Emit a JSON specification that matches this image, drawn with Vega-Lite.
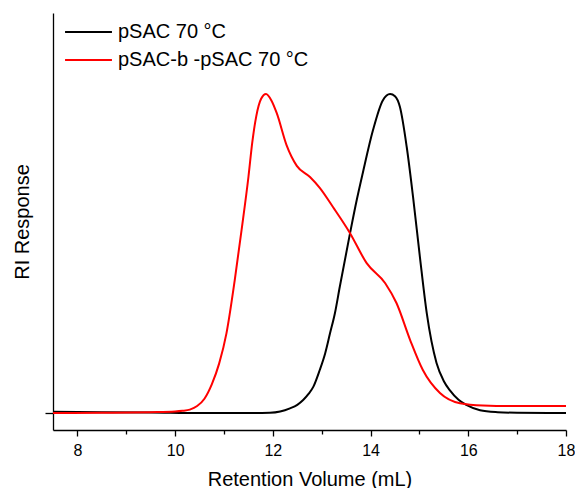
{
  "$schema": "https://vega.github.io/schema/vega-lite/v6.json",
  "width": 513,
  "height": 417,
  "autosize": {"type": "none"},
  "padding": {"left": 53, "top": 13, "right": 9, "bottom": 58},
  "background": "white",
  "config": {
    "view": {"stroke": null},
    "font": "Liberation Sans",
    "axis": {"domainColor": "#000", "domainWidth": 1.3, "tickColor": "#000", "tickWidth": 1.3, "labelColor": "#000", "titleColor": "#000", "titleFontWeight": "normal", "grid": false}
  },
  "data": {
    "values": [
      {"v": 7.5, "r": 0.004, "s": "pSAC 70 °C"},
      {"v": 8.5, "r": 0.003, "s": "pSAC 70 °C"},
      {"v": 9.5, "r": 0.002, "s": "pSAC 70 °C"},
      {"v": 10.5, "r": 0.0, "s": "pSAC 70 °C"},
      {"v": 11.5, "r": 0.0, "s": "pSAC 70 °C"},
      {"v": 11.94, "r": 0.001, "s": "pSAC 70 °C"},
      {"v": 12.15, "r": 0.005, "s": "pSAC 70 °C"},
      {"v": 12.35, "r": 0.015, "s": "pSAC 70 °C"},
      {"v": 12.5, "r": 0.026, "s": "pSAC 70 °C"},
      {"v": 12.62, "r": 0.041, "s": "pSAC 70 °C"},
      {"v": 12.73, "r": 0.06, "s": "pSAC 70 °C"},
      {"v": 12.83, "r": 0.083, "s": "pSAC 70 °C"},
      {"v": 12.96, "r": 0.135, "s": "pSAC 70 °C"},
      {"v": 13.07, "r": 0.187, "s": "pSAC 70 °C"},
      {"v": 13.17, "r": 0.25, "s": "pSAC 70 °C"},
      {"v": 13.27, "r": 0.313, "s": "pSAC 70 °C"},
      {"v": 13.37, "r": 0.396, "s": "pSAC 70 °C"},
      {"v": 13.58, "r": 0.564, "s": "pSAC 70 °C"},
      {"v": 13.72, "r": 0.67, "s": "pSAC 70 °C"},
      {"v": 13.84, "r": 0.752, "s": "pSAC 70 °C"},
      {"v": 14.05, "r": 0.887, "s": "pSAC 70 °C"},
      {"v": 14.25, "r": 0.98, "s": "pSAC 70 °C"},
      {"v": 14.4, "r": 1.0, "s": "pSAC 70 °C"},
      {"v": 14.5, "r": 0.993, "s": "pSAC 70 °C"},
      {"v": 14.6, "r": 0.96, "s": "pSAC 70 °C"},
      {"v": 14.74, "r": 0.834, "s": "pSAC 70 °C"},
      {"v": 14.87, "r": 0.677, "s": "pSAC 70 °C"},
      {"v": 15.01, "r": 0.489, "s": "pSAC 70 °C"},
      {"v": 15.15, "r": 0.313, "s": "pSAC 70 °C"},
      {"v": 15.35, "r": 0.157, "s": "pSAC 70 °C"},
      {"v": 15.5, "r": 0.1, "s": "pSAC 70 °C"},
      {"v": 15.62, "r": 0.072, "s": "pSAC 70 °C"},
      {"v": 15.8, "r": 0.042, "s": "pSAC 70 °C"},
      {"v": 15.97, "r": 0.025, "s": "pSAC 70 °C"},
      {"v": 16.24, "r": 0.009, "s": "pSAC 70 °C"},
      {"v": 16.6, "r": 0.003, "s": "pSAC 70 °C"},
      {"v": 17.0, "r": 0.001, "s": "pSAC 70 °C"},
      {"v": 18.0, "r": 0.0, "s": "pSAC 70 °C"},
      {"v": 7.5, "r": 0.0, "s": "pSAC-b -pSAC 70 °C"},
      {"v": 8.5, "r": 0.001, "s": "pSAC-b -pSAC 70 °C"},
      {"v": 9.5, "r": 0.003, "s": "pSAC-b -pSAC 70 °C"},
      {"v": 10.0, "r": 0.005, "s": "pSAC-b -pSAC 70 °C"},
      {"v": 10.15, "r": 0.007, "s": "pSAC-b -pSAC 70 °C"},
      {"v": 10.3, "r": 0.011, "s": "pSAC-b -pSAC 70 °C"},
      {"v": 10.45, "r": 0.022, "s": "pSAC-b -pSAC 70 °C"},
      {"v": 10.6, "r": 0.045, "s": "pSAC-b -pSAC 70 °C"},
      {"v": 10.75, "r": 0.09, "s": "pSAC-b -pSAC 70 °C"},
      {"v": 10.9, "r": 0.155, "s": "pSAC-b -pSAC 70 °C"},
      {"v": 11.05, "r": 0.25, "s": "pSAC-b -pSAC 70 °C"},
      {"v": 11.22, "r": 0.417, "s": "pSAC-b -pSAC 70 °C"},
      {"v": 11.36, "r": 0.574, "s": "pSAC-b -pSAC 70 °C"},
      {"v": 11.5, "r": 0.74, "s": "pSAC-b -pSAC 70 °C"},
      {"v": 11.58, "r": 0.85, "s": "pSAC-b -pSAC 70 °C"},
      {"v": 11.66, "r": 0.93, "s": "pSAC-b -pSAC 70 °C"},
      {"v": 11.76, "r": 0.985, "s": "pSAC-b -pSAC 70 °C"},
      {"v": 11.86, "r": 1.0, "s": "pSAC-b -pSAC 70 °C"},
      {"v": 11.97, "r": 0.98, "s": "pSAC-b -pSAC 70 °C"},
      {"v": 12.08, "r": 0.94, "s": "pSAC-b -pSAC 70 °C"},
      {"v": 12.28, "r": 0.84, "s": "pSAC-b -pSAC 70 °C"},
      {"v": 12.49, "r": 0.775, "s": "pSAC-b -pSAC 70 °C"},
      {"v": 12.76, "r": 0.74, "s": "pSAC-b -pSAC 70 °C"},
      {"v": 12.96, "r": 0.706, "s": "pSAC-b -pSAC 70 °C"},
      {"v": 13.23, "r": 0.646, "s": "pSAC-b -pSAC 70 °C"},
      {"v": 13.58, "r": 0.564, "s": "pSAC-b -pSAC 70 °C"},
      {"v": 13.92, "r": 0.47, "s": "pSAC-b -pSAC 70 °C"},
      {"v": 14.3, "r": 0.407, "s": "pSAC-b -pSAC 70 °C"},
      {"v": 14.53, "r": 0.345, "s": "pSAC-b -pSAC 70 °C"},
      {"v": 14.81, "r": 0.229, "s": "pSAC-b -pSAC 70 °C"},
      {"v": 15.07, "r": 0.135, "s": "pSAC-b -pSAC 70 °C"},
      {"v": 15.42, "r": 0.063, "s": "pSAC-b -pSAC 70 °C"},
      {"v": 15.83, "r": 0.031, "s": "pSAC-b -pSAC 70 °C"},
      {"v": 16.3, "r": 0.024, "s": "pSAC-b -pSAC 70 °C"},
      {"v": 17.0, "r": 0.022, "s": "pSAC-b -pSAC 70 °C"},
      {"v": 18.0, "r": 0.022, "s": "pSAC-b -pSAC 70 °C"}
    ]
  },
  "mark": {"type": "line", "interpolate": "monotone", "strokeWidth": 2, "clip": true},
  "encoding": {
    "x": {
      "field": "v", "type": "quantitative",
      "scale": {"domain": [7.5, 18], "nice": false, "zero": false},
      "axis": {
        "title": "Retention Volume (mL)",
        "values": [8, 9, 10, 11, 12, 13, 14, 15, 16, 17, 18],
        "labelExpr": "datum.value % 2 === 0 ? datum.label : ''",
        "tickSize": {"condition": {"test": "datum.value % 2 !== 0", "value": 4}, "value": 6},
        "labelFontSize": 16, "labelPadding": 6, "labelFlush": false,
        "titleFontSize": 20, "titlePadding": 11
      }
    },
    "y": {
      "field": "r", "type": "quantitative",
      "scale": {"domain": [-0.053, 1.254], "nice": false, "zero": false},
      "axis": {
        "title": "RI Response",
        "values": [0],
        "labels": false,
        "tickSize": 8,
        "titleFontSize": 20, "titlePadding": 12
      }
    },
    "color": {
      "field": "s", "type": "nominal",
      "scale": {"domain": ["pSAC 70 °C", "pSAC-b -pSAC 70 °C"], "range": ["#000000", "#ff0000"]},
      "legend": {
        "title": null,
        "orient": "none",
        "legendX": 11,
        "legendY": 7,
        "symbolType": "stroke",
        "symbolSize": 2200,
        "symbolStrokeWidth": 2,
        "clipHeight": 24,
        "labelFontSize": 20,
        "labelOffset": 5,
        "labelLimit": 0,
        "rowPadding": 4
      }
    }
  }
}
